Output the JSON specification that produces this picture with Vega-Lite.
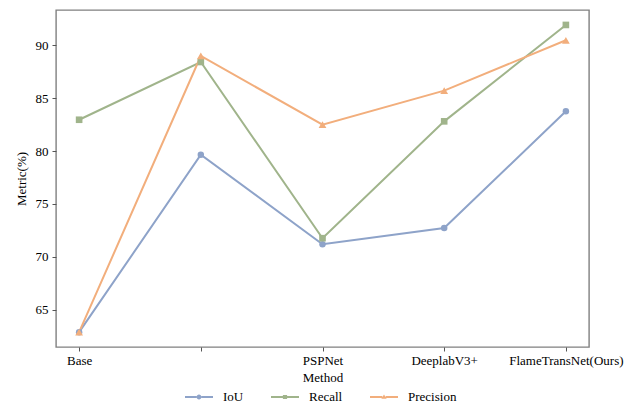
{
  "$schema": "https://vega.github.io/schema/vega-lite/v6.json",
  "width": 533,
  "height": 337,
  "autosize": "none",
  "padding": {"left": 56, "top": 10, "right": 37, "bottom": 62},
  "background": "white",
  "config": {
    "font": "Liberation Serif",
    "view": {"stroke": "#808080", "strokeWidth": 1.4},
    "axis": {
      "domain": false,
      "grid": false,
      "labelFont": "Liberation Serif",
      "titleFont": "Liberation Serif",
      "labelFontSize": 13,
      "titleFontSize": 13,
      "labelColor": "#000",
      "titleColor": "#000",
      "titleFontWeight": "normal",
      "tickColor": "#555",
      "tickSize": 4
    },
    "legend": {
      "labelFont": "Liberation Serif",
      "labelFontSize": 13,
      "labelColor": "#000"
    }
  },
  "data": {
    "values": [
      {"method": "Base", "metric": "IoU", "value": 62.9},
      {"method": " ", "metric": "IoU", "value": 79.65},
      {"method": "PSPNet", "metric": "IoU", "value": 71.2},
      {"method": "DeeplabV3+", "metric": "IoU", "value": 72.73},
      {"method": "FlameTransNet(Ours)", "metric": "IoU", "value": 83.75},
      {"method": "Base", "metric": "Recall", "value": 82.95},
      {"method": " ", "metric": "Recall", "value": 88.4},
      {"method": "PSPNet", "metric": "Recall", "value": 71.77},
      {"method": "DeeplabV3+", "metric": "Recall", "value": 82.8},
      {"method": "FlameTransNet(Ours)", "metric": "Recall", "value": 91.9},
      {"method": "Base", "metric": "Precision", "value": 62.9},
      {"method": " ", "metric": "Precision", "value": 88.97},
      {"method": "PSPNet", "metric": "Precision", "value": 82.49},
      {"method": "DeeplabV3+", "metric": "Precision", "value": 85.7},
      {"method": "FlameTransNet(Ours)", "metric": "Precision", "value": 90.45}
    ]
  },
  "encoding": {
    "x": {
      "field": "method",
      "type": "ordinal",
      "sort": ["Base", " ", "PSPNet", "DeeplabV3+", "FlameTransNet(Ours)"],
      "scale": {"type": "point", "padding": 0.19},
      "axis": {"title": "Method", "labelAngle": 0, "labelPadding": 3, "titlePadding": 4}
    },
    "y": {
      "field": "value",
      "type": "quantitative",
      "scale": {"domain": [61.5, 93.31], "nice": false, "zero": false},
      "axis": {"title": "Metric(%)", "values": [65, 70, 75, 80, 85, 90], "labelPadding": 4, "titlePadding": 7}
    },
    "color": {
      "field": "metric",
      "type": "nominal",
      "sort": ["IoU", "Recall", "Precision"],
      "scale": {"domain": ["IoU", "Recall", "Precision"], "range": ["#8ea3c9", "#a0b48b", "#f2ae7c"]},
      "legend": {
        "title": null,
        "orient": "none",
        "legendX": 129,
        "legendY": 373,
        "direction": "horizontal",
        "columns": 3,
        "columnPadding": 27,
        "symbolSize": 784,
        "labelOffset": 10,
        "encode": {
          "symbols": {
            "update": {
              "shape": {"signal": "datum.value === 'IoU' ? 'M-1,-0.064L-0.17,-0.064L-0.17,0.064L-1,0.064Z M0.17,-0.064L1,-0.064L1,0.064L0.17,0.064Z M-0.17,0A0.17,0.17,0,1,0,0.17,0A0.17,0.17,0,1,0,-0.17,0Z' : datum.value === 'Recall' ? 'M-1,-0.064L-0.15,-0.064L-0.15,0.064L-1,0.064Z M0.15,-0.064L1,-0.064L1,0.064L0.15,0.064Z M-0.15,-0.15L0.15,-0.15L0.15,0.15L-0.15,0.15Z' : 'M-1,-0.064L-0.12,-0.064L-0.12,0.064L-1,0.064Z M0.12,-0.064L1,-0.064L1,0.064L0.12,0.064Z M0,-0.18L0.19,0.13L-0.19,0.13Z'"},
              "fill": {"signal": "datum.value === 'IoU' ? '#8ea3c9' : datum.value === 'Recall' ? '#a0b48b' : '#f2ae7c'"},
              "stroke": {"value": "transparent"},
              "strokeWidth": {"value": 0},
              "size": {"value": 784},
              "opacity": {"value": 1}
            }
          }
        }
      }
    }
  },
  "layer": [
    {
      "mark": {"type": "line", "strokeWidth": 2}
    },
    {
      "transform": [{"filter": "datum.metric === 'IoU'"}],
      "mark": {"type": "point", "filled": true, "opacity": 1, "shape": "circle", "size": 42}
    },
    {
      "transform": [{"filter": "datum.metric === 'Recall'"}],
      "mark": {"type": "point", "filled": true, "opacity": 1, "shape": "square", "size": 44}
    },
    {
      "transform": [{"filter": "datum.metric === 'Precision'"}],
      "mark": {"type": "point", "filled": true, "opacity": 1, "shape": "triangle-up", "size": 60}
    }
  ]
}
